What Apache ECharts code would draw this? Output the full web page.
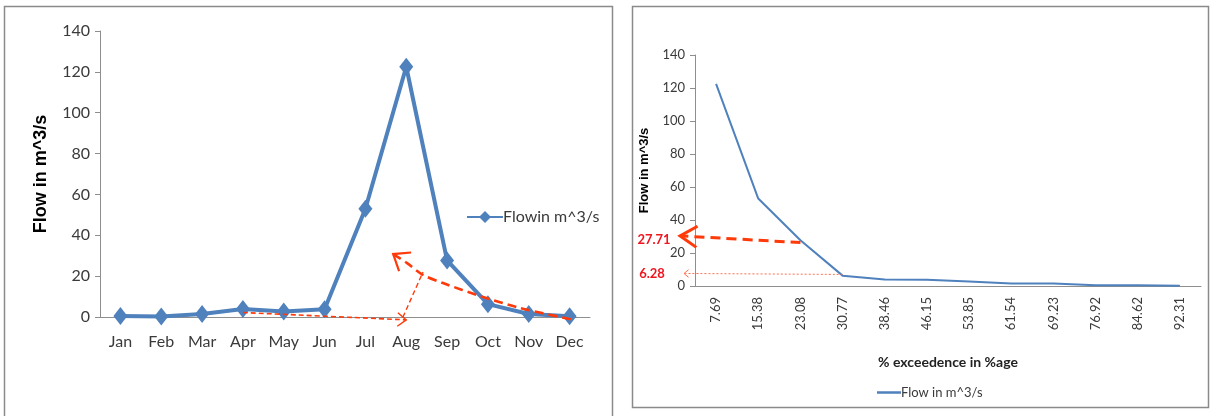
<!DOCTYPE html>
<html>
<head>
<meta charset="utf-8">
<script src="https://cdn.jsdelivr.net/npm/echarts@6/dist/echarts.min.js"></script>
<style>
  html, body { margin: 0; padding: 0; background: #ffffff; }
  #chart { width: 1211px; height: 416px; }
</style>
</head>
<body>
<div id="chart"></div>
<script>
// Monthly mean flow (hydrograph)
const months = ['Jan', 'Feb', 'Mar', 'Apr', 'May', 'Jun', 'Jul', 'Aug', 'Sep', 'Oct', 'Nov', 'Dec'];
const monthlyFlow = [0.5, 0.2, 1.5, 3.9, 2.7, 3.8, 53, 122.5, 27.71, 6.28, 1.5, 0.4];

// Flow duration curve
const exceedence = ['7.69', '15.38', '23.08', '30.77', '38.46', '46.15', '53.85', '61.54', '69.23', '76.92', '84.62', '92.31'];
const durationFlow = [122.5, 53, 27.71, 6.28, 3.9, 3.8, 2.7, 1.5, 1.5, 0.5, 0.4, 0.2];

// Shared value-axis range
const yMin = 0;
const yMax = 140;
const yStep = 20;

const BLUE = '#4F81BD';
const AXIS = '#8E8E8E';
const TXT = '#3A3A3A';
const RED = '#FF3A0A';
const RED_TEXT = '#F0141E';
const FONT = 'Lato';

const chart = echarts.init(document.getElementById('chart'), null, { renderer: 'canvas' });

function valueAxis(gridIndex, labelSize, titleSize, titleGap) {
  return {
    type: 'value', gridIndex: gridIndex, min: yMin, max: yMax, interval: yStep,
    name: 'Flow in m^3/s', nameLocation: 'middle', nameGap: titleGap, nameRotate: 90,
    nameTextStyle: { fontFamily: 'Liberation Sans', fontWeight: 'bold', fontSize: titleSize, color: '#000' },
    axisLine: { show: true, lineStyle: { color: AXIS, width: 1 } },
    axisTick: { show: true, length: 5, lineStyle: { color: AXIS } },
    splitLine: { show: false },
    axisLabel: { fontFamily: FONT, fontSize: labelSize, color: TXT, margin: 10 }
  };
}

const option = {
  backgroundColor: '#ffffff',
  animation: false,
  grid: [
    { left: 100, right: 621, top: 31, bottom: 99 },
    { left: 695, right: 10, top: 55, bottom: 130 }
  ],
  xAxis: [
    {
      type: 'category', gridIndex: 0, data: months, boundaryGap: true,
      axisLine: { lineStyle: { color: AXIS, width: 1 } },
      axisTick: { show: false },
      axisLabel: { fontFamily: FONT, fontSize: 16, color: TXT, margin: 17 }
    },
    {
      type: 'category', gridIndex: 1, data: exceedence, boundaryGap: true,
      name: '% exceedence in %age', nameLocation: 'middle', nameGap: 69,
      nameTextStyle: { fontFamily: FONT, fontWeight: 'bold', fontSize: 14, color: '#222' },
      axisLine: { lineStyle: { color: AXIS, width: 1 } },
      axisTick: { show: false },
      axisLabel: { fontFamily: FONT, fontSize: 13, color: TXT, rotate: 90, margin: 11 }
    }
  ],
  yAxis: [
    valueAxis(0, 16, 18, 50),
    valueAxis(1, 13, 13, 44)
  ],
  legend: [
    {
      data: ['Flowin m^3/s'], left: 461, top: 204, itemWidth: 36, itemHeight: 15,
      textStyle: { fontFamily: FONT, fontSize: 16, color: TXT, padding: [0, 0, 0, -5] }
    },
    {
      data: [{ name: 'Flow in m^3/s', icon: 'rect' }], left: 872, top: 381, itemWidth: 24, itemHeight: 2.5,
      textStyle: { fontFamily: FONT, fontSize: 13, color: TXT, padding: [0, 0, 0, -5] }
    }
  ],
  series: [
    {
      name: 'Flowin m^3/s', type: 'line', xAxisIndex: 0, yAxisIndex: 0,
      data: monthlyFlow, symbol: 'diamond', symbolSize: [14, 18], z: 3,
      lineStyle: { color: BLUE, width: 4 }, itemStyle: { color: BLUE }
    },
    {
      name: 'Flow in m^3/s', type: 'line', xAxisIndex: 1, yAxisIndex: 1,
      data: durationFlow, symbol: 'none', showSymbol: false,
      lineStyle: { color: BLUE, width: 2 }, itemStyle: { color: BLUE }
    }
  ]
};

chart.setOption(option);

// ---- panel frames and red reading guides, placed through the grid scales ----
// x given as a (possibly fractional) category position, y as a flow value
function px(grid, x, y) {
  const p0 = chart.convertToPixel({ gridIndex: grid }, [0, y]);
  const p1 = chart.convertToPixel({ gridIndex: grid }, [1, y]);
  const band = p1[0] - p0[0];
  return [p0[0] + x * band, p0[1]];
}

// open chevron arrowhead at `tip`, arms pointing back toward `from`
function arrowHead(tip, from, len, angleDeg) {
  const dx = from[0] - tip[0], dy = from[1] - tip[1];
  const d = Math.hypot(dx, dy) || 1;
  const ux = dx / d, uy = dy / d;
  const a = angleDeg * Math.PI / 180;
  const rot = (s) => [tip[0] + len * (ux * Math.cos(s) - uy * Math.sin(s)),
                      tip[1] + len * (ux * Math.sin(s) + uy * Math.cos(s))];
  return [rot(a), tip, rot(-a)];
}

function dashed(points, width, dash, color) {
  return {
    type: 'polyline', z: 10, silent: true,
    shape: { points: points, smooth: 0.3 },
    style: { stroke: color, lineWidth: width, lineDash: dash, fill: null }
  };
}
function solid(points, width, color) {
  return {
    type: 'polyline', z: 10, silent: true,
    shape: { points: points },
    style: { stroke: color, lineWidth: width, fill: null, lineJoin: 'miter' }
  };
}

const g = [];

// panel frames
g.push({ type: 'rect', z: -1, silent: true, shape: { x: 4.5, y: 6.5, width: 608, height: 420 },
         style: { fill: null, stroke: '#8A8A8A', lineWidth: 1.5 } });
g.push({ type: 'rect', z: -1, silent: true, shape: { x: 632.5, y: 6.5, width: 576, height: 401 },
         style: { fill: null, stroke: '#8A8A8A', lineWidth: 1.5 } });

// hydrograph: low-flow guide from Apr toward Aug
const l1 = [px(0, 3, 2.2), px(0, 7, -1.4)];
g.push(dashed(l1, 1.6, [5, 3], RED));
g.push(solid(arrowHead(l1[1], l1[0], 11, 38), 1.4, RED));
g.push(dashed([px(0, 6.92, 0), px(0, 7.41, 22)], 1.4, [5, 3], RED));

// hydrograph: recession guide from Dec back toward Sep
const l2 = [
  px(0, 11.03, -1.1), px(0, 9.79, 4.4), px(0, 8.81, 10.3),
  px(0, 7.9, 16.6), px(0, 7.41, 20.6), px(0, 7.02, 26.4), px(0, 6.68, 30.8)
];
g.push(dashed(l2, 2.6, [9, 5], RED));
g.push(solid(arrowHead(l2[l2.length - 1], l2[l2.length - 2], 18, 38), 2.2, RED));

// duration curve: reading guides to the value axis
const axisX = px(1, -0.5, 0)[0];

const q1Start = px(1, 2, 26.3);
const q1Tip = [axisX - 15, px(1, 0, 30.4)[1]];
g.push(dashed([q1Start, q1Tip], 3, [10, 6], RED));
g.push(solid(arrowHead(q1Tip, q1Start, 20, 32), 3, RED));

const q2Start = px(1, 3, 7.0);
const q2Tip = [axisX - 11, px(1, 0, 7.6)[1]];
g.push(dashed([q2Start, q2Tip], 1, [2, 2], '#FF7050'));
g.push(solid(arrowHead(q2Tip, q2Start, 6, 40), 1, '#FF7050'));

g.push({ type: 'text', z: 11, silent: true, x: axisX - 41, y: px(1, 0, durationFlow[2])[1],
         style: { text: String(durationFlow[2]), fill: RED_TEXT, font: 'bold 13px Lato', align: 'center', verticalAlign: 'middle' } });
g.push({ type: 'text', z: 11, silent: true, x: axisX - 43, y: px(1, 0, 7.6)[1],
         style: { text: String(durationFlow[3]), fill: RED_TEXT, font: 'bold 13px Lato', align: 'center', verticalAlign: 'middle' } });

chart.setOption({ graphic: g });
</script>
</body>
</html>
